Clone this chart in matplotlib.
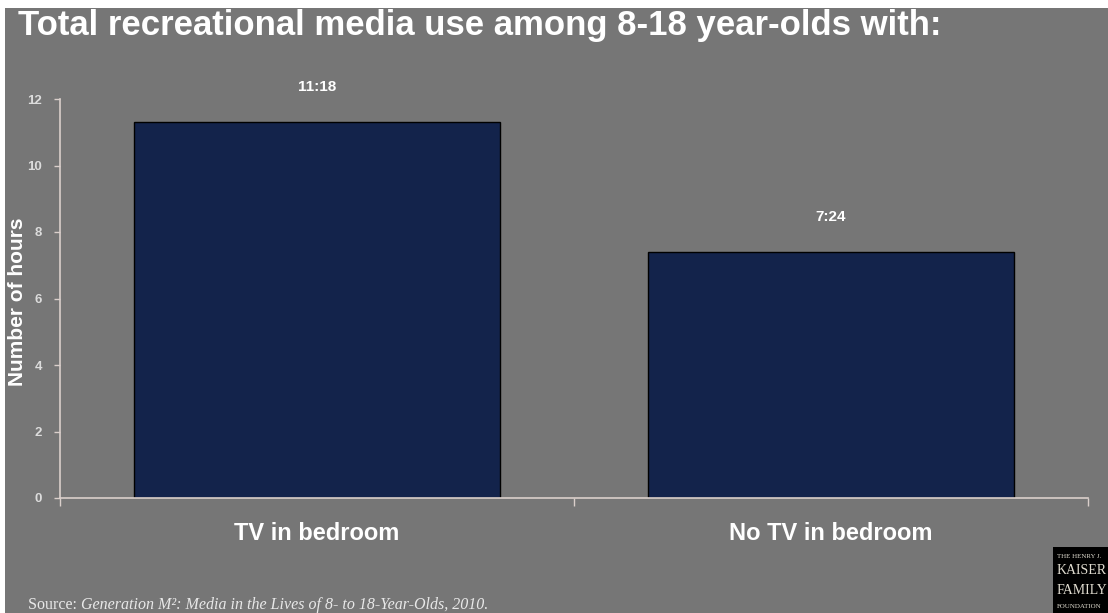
import matplotlib.pyplot as plt
from matplotlib.patches import Rectangle
from matplotlib import rcParams

rcParams['font.family'] = ['Liberation Sans', 'DejaVu Sans']

categories = ['TV in bedroom', 'No TV in bedroom']
hours = [11.3, 7.4]
value_labels = ['11:18', '7:24']
yticks = [0, 2, 4, 6, 8, 10, 12]

bg = '#767676'
bar_color = '#13234b'
spine_color = '#dacfcb'

W, H = 1108, 613
fig = plt.figure(figsize=(W / 100, H / 100), dpi=100, facecolor='white')
fig.patches.append(Rectangle((5 / W, 0), 1, 1 - 8 / H, transform=fig.transFigure,
                             facecolor=bg, edgecolor='none', zorder=-10))

ax = fig.add_axes([60 / W, 1 - 498 / H, 1028 / W, 399 / H])
ax.set_facecolor('none')
x = range(len(categories))
ax.bar(x, hours, width=0.714, color=bar_color, edgecolor='black', linewidth=1)
for i, (h, lab) in enumerate(zip(hours, value_labels)):
    ax.text(i, h + 1.05, lab, ha='center', va='center', color='white',
            fontsize=11, fontweight='bold')

ax.set_xlim(-0.5, 1.5)
ax.set_ylim(0, 12)
ax.set_yticks(yticks)
ax.set_xticks(list(x))
ax.set_xticklabels(categories, fontsize=17, fontweight='bold', color='white')
ax.set_xticks([-0.5, 0.5, 1.5], minor=True)
ax.tick_params(axis='x', which='major', length=0, pad=17)
ax.tick_params(axis='x', which='minor', length=6, color=spine_color, width=1)
ax.tick_params(axis='y', length=4, color=spine_color, width=1, labelsize=9.5,
               labelcolor='#dcdcdc', pad=9)
for lab in ax.get_yticklabels():
    lab.set_fontweight('bold')
for s in ['top', 'right']:
    ax.spines[s].set_visible(False)
for s in ['left', 'bottom']:
    ax.spines[s].set_color(spine_color)
    ax.spines[s].set_linewidth(1.2)

fig.text(18 / W, 1 - 302 / H, 'Number of hours', rotation=90, fontsize=15,
         fontweight='bold', color='white', ha='center', va='center')

fig.text(18 / W, 1 - 26 / H, 'Total recreational media use among 8-18 year-olds with:',
         fontsize=25, fontweight='bold', color='white', va='center',
         family=['Liberation Sans Narrow', 'Liberation Sans', 'DejaVu Sans'])

# source line: plain "Source:" followed by italic title
src = fig.text(28 / W, 1 - 609 / H, 'Source: ', fontsize=11.5, color='#e8e8e8',
               va='baseline', family='Liberation Serif')
ax.annotate('Generation M\u00b2: Media in the Lives of 8- to 18-Year-Olds, 2010.',
            xy=(1, 0), xycoords=src, va='bottom', ha='left', fontsize=11.5,
            color='#e8e8e8', family='Liberation Serif', style='italic',
            annotation_clip=False)

# foundation logo in the corner
fig.patches.append(Rectangle((1053 / W, 0), 60 / W, 66 / H, transform=fig.transFigure,
                             facecolor='black', edgecolor='none'))
for txt, yy, fs in [('THE HENRY J.', 556, 5), ('KAISER', 571, 10),
                    ('FAMILY', 590, 10), ('FOUNDATION', 606, 5)]:
    fig.text(1057 / W, 1 - yy / H, txt, fontsize=fs, color='#e0dcd0',
             va='center', family='Liberation Serif')

fig.savefig('out.png', dpi=100, facecolor='white')
